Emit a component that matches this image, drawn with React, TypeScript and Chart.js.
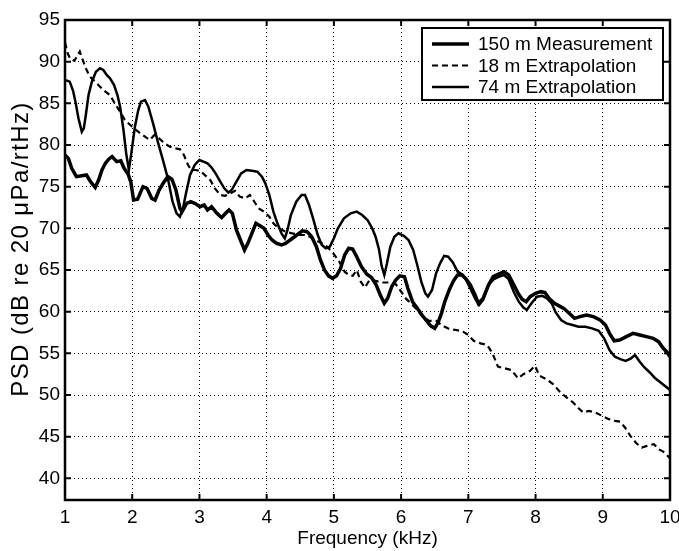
import React, { useEffect, useRef } from 'react';
import { Chart, registerables } from 'chart.js';

Chart.register(...registerables);

// ---- data ----
const freq150 = [1.00,1.05,1.10,1.17,1.25,1.32,1.38,1.45,1.50,1.55,1.60,1.65,1.70,1.77,1.83,1.88,1.94,1.98,2.02,2.08,2.16,2.22,2.29,2.34,2.40,2.46,2.53,2.59,2.65,2.71,2.74,2.81,2.87,2.93,3.01,3.07,3.12,3.18,3.26,3.33,3.39,3.44,3.49,3.55,3.61,3.67,3.72,3.78,3.84,3.90,3.96,4.02,4.08,4.15,4.22,4.28,4.35,4.45,4.53,4.60,4.67,4.74,4.80,4.86,4.92,4.98,5.04,5.10,5.16,5.22,5.28,5.34,5.41,5.49,5.56,5.63,5.69,5.75,5.80,5.86,5.92,5.98,6.05,6.10,6.17,6.24,6.31,6.38,6.44,6.50,6.55,6.60,6.65,6.72,6.78,6.84,6.90,6.96,7.03,7.10,7.15,7.22,7.30,7.37,7.45,7.53,7.60,7.67,7.74,7.80,7.86,7.92,8.00,8.08,8.14,8.20,8.28,8.35,8.42,8.50,8.58,8.66,8.76,8.86,8.96,9.04,9.10,9.17,9.25,9.35,9.45,9.55,9.65,9.75,9.83,9.90,9.95,10.0];
const psd150 = [78.8,78.4,77.2,76.2,76.3,76.4,75.6,74.9,75.8,77.0,77.8,78.3,78.6,78.0,78.1,77.2,76.5,75.5,73.4,73.5,75.0,74.8,73.6,73.4,74.6,75.4,76.2,75.9,74.6,72.4,72.0,73.0,73.2,73.0,72.6,72.8,72.2,72.6,71.8,71.3,71.8,72.2,71.8,69.8,68.6,67.4,68.2,69.4,70.6,70.3,70.0,69.2,68.6,68.2,68.0,68.2,68.6,69.2,69.7,69.6,69.0,67.8,66.2,65.0,64.3,64.0,64.3,65.2,66.8,67.6,67.5,66.6,65.4,64.5,64.1,63.2,62.0,61.0,61.6,63.0,63.8,64.3,64.2,62.8,61.2,60.4,59.6,58.9,58.3,58.0,58.7,59.8,61.2,62.7,63.7,64.4,64.4,64.0,63.2,62.0,61.0,61.6,63.2,64.2,64.5,64.8,64.4,63.3,62.2,61.5,61.2,61.8,62.2,62.4,62.3,61.6,61.0,60.7,60.4,59.8,59.2,59.4,59.6,59.4,59.0,58.4,57.4,56.5,56.6,57.0,57.4,57.2,57.0,56.8,56.4,55.6,55.2,54.6];

const freq18 = [1.00,1.04,1.08,1.14,1.19,1.22,1.26,1.31,1.37,1.45,1.52,1.60,1.67,1.74,1.82,1.89,1.97,2.04,2.12,2.19,2.26,2.33,2.40,2.48,2.56,2.64,2.71,2.77,2.83,2.88,2.94,3.01,3.08,3.16,3.23,3.31,3.38,3.46,3.53,3.60,3.68,3.75,3.80,3.88,3.96,4.04,4.10,4.18,4.28,4.38,4.50,4.60,4.70,4.80,4.90,5.00,5.08,5.16,5.22,5.28,5.34,5.40,5.46,5.53,5.62,5.72,5.82,5.92,6.00,6.08,6.16,6.24,6.32,6.42,6.52,6.62,6.72,6.82,6.92,7.00,7.08,7.18,7.28,7.36,7.44,7.54,7.64,7.74,7.82,7.92,7.99,8.06,8.16,8.26,8.36,8.46,8.56,8.64,8.71,8.79,8.89,8.99,9.09,9.18,9.26,9.33,9.41,9.50,9.58,9.66,9.76,9.83,9.92,10.0];
const psd18 = [92.3,91.0,90.3,90.1,90.8,91.2,90.3,89.2,88.2,87.6,87.0,86.4,86.0,85.0,84.0,83.0,82.4,81.9,81.4,81.0,80.6,81.2,80.8,80.2,79.8,79.6,79.5,78.8,77.6,77.0,77.0,76.9,76.4,75.8,74.8,74.0,73.9,74.2,74.5,73.8,73.6,74.0,73.4,72.4,72.0,71.4,70.6,70.0,69.6,69.4,69.2,69.2,68.7,68.3,67.8,66.9,66.0,64.8,64.4,64.3,65.0,63.6,62.9,63.8,63.7,63.5,63.5,63.3,62.4,61.5,60.9,60.2,59.4,58.9,58.9,58.3,57.9,57.8,57.6,57.2,56.5,56.2,56.0,55.0,53.4,53.2,53.0,52.0,52.5,52.9,53.5,52.3,51.9,51.3,50.4,49.7,49.1,48.4,47.9,48.1,47.9,47.5,47.1,46.9,46.8,46.1,45.1,44.2,43.7,43.9,44.1,43.5,43.1,42.4];

const freq74 = [1.00,1.07,1.12,1.16,1.20,1.25,1.28,1.31,1.35,1.40,1.46,1.52,1.57,1.62,1.67,1.73,1.78,1.82,1.87,1.91,1.95,1.99,2.04,2.09,2.13,2.19,2.24,2.31,2.38,2.45,2.53,2.60,2.66,2.71,2.76,2.80,2.86,2.93,3.00,3.06,3.12,3.18,3.24,3.31,3.37,3.43,3.48,3.55,3.62,3.70,3.78,3.86,3.93,3.98,4.04,4.10,4.16,4.22,4.27,4.31,4.36,4.44,4.52,4.57,4.63,4.69,4.76,4.82,4.88,4.94,5.00,5.06,5.15,5.25,5.34,5.42,5.50,5.57,5.62,5.67,5.71,5.75,5.79,5.84,5.90,5.96,6.04,6.11,6.18,6.24,6.30,6.36,6.40,6.46,6.52,6.58,6.64,6.70,6.77,6.84,6.92,6.98,7.04,7.10,7.16,7.22,7.30,7.38,7.46,7.53,7.60,7.68,7.75,7.82,7.87,7.94,8.02,8.10,8.17,8.24,8.30,8.38,8.46,8.55,8.64,8.74,8.84,8.94,9.02,9.10,9.18,9.26,9.34,9.42,9.48,9.55,9.62,9.70,9.78,9.86,9.94,10.0];
const psd74 = [87.8,87.6,86.5,85.0,83.2,81.6,82.0,83.6,86.0,87.6,88.8,89.2,89.0,88.4,88.0,87.2,86.0,84.6,81.8,79.0,77.0,79.2,82.2,84.2,85.2,85.4,84.6,82.6,80.4,78.4,76.0,73.2,71.8,71.4,72.6,74.2,76.4,77.6,78.2,78.0,77.8,77.3,76.6,75.6,74.8,74.3,74.6,75.6,76.6,77.0,76.9,76.8,76.2,75.4,74.0,72.0,70.6,69.4,68.8,69.8,71.6,73.2,74.0,74.0,72.8,71.2,69.2,68.0,67.6,67.8,68.8,70.0,71.2,71.8,72.0,71.6,71.0,70.0,69.0,67.5,65.5,64.4,65.8,67.8,69.0,69.4,69.1,68.6,67.4,65.6,63.6,62.2,61.8,62.6,64.6,65.8,66.7,66.6,65.9,64.8,64.4,63.6,62.6,61.6,60.8,61.4,63.2,63.9,64.2,64.4,63.9,62.3,61.2,60.5,60.2,61.0,61.8,61.9,61.6,61.0,59.9,59.0,58.6,58.4,58.2,58.2,58.0,57.7,56.8,55.4,54.6,54.3,54.1,54.4,54.8,54.0,53.3,52.7,52.0,51.5,51.0,50.6];

const seriesLabels = ['150 m Measurement', '18 m Extrapolation', '74 m Extrapolation'];
const xTickValues = [1, 2, 3, 4, 5, 6, 7, 8, 9, 10];
const yTickValues = [40, 45, 50, 55, 60, 65, 70, 75, 80, 85, 90, 95];
const xTitle = 'Frequency (kHz)';
const yTitle = 'PSD (dB re 20 \u03BCPa/rtHz)';

const FONT = "'Liberation Sans', Arial, Helvetica, sans-serif";

const toPoints = (xs: number[], ys: number[]) => xs.map((x, i) => ({ x, y: ys[i] }));

const frameAndLegend = {
  id: 'frameAndLegend',
  afterDatasetsDraw(chart: any) {
    const { ctx, chartArea: a, scales } = chart;
    ctx.save();
    ctx.strokeStyle = '#000';
    // inward ticks on all four sides
    ctx.lineWidth = 2;
    const tl = 6;
    xTickValues.forEach((v) => {
      const px = scales.x.getPixelForValue(v);
      ctx.beginPath();
      ctx.moveTo(px, a.bottom); ctx.lineTo(px, a.bottom - tl);
      ctx.moveTo(px, a.top); ctx.lineTo(px, a.top + tl);
      ctx.stroke();
    });
    yTickValues.forEach((v) => {
      const py = scales.y.getPixelForValue(v);
      ctx.beginPath();
      ctx.moveTo(a.left, py); ctx.lineTo(a.left + tl, py);
      ctx.moveTo(a.right, py); ctx.lineTo(a.right - tl, py);
      ctx.stroke();
    });
    // frame
    ctx.lineWidth = 2.5;
    ctx.strokeRect(a.left, a.top, a.right - a.left, a.bottom - a.top);

    // y axis title (rotated)
    ctx.save();
    ctx.translate(21, 249);
    ctx.rotate(-Math.PI / 2);
    ctx.font = `24px ${FONT}`;
    (ctx as any).letterSpacing = '1.4px';
    ctx.fillStyle = '#000';
    ctx.textAlign = 'center';
    ctx.textBaseline = 'middle';
    ctx.fillText(yTitle, 0, 0);
    ctx.restore();

    // legend box
    const bx = a.right - 248, by = a.top + 8, bw = 241, bh = 72;
    ctx.fillStyle = '#fff';
    ctx.fillRect(bx, by, bw, bh);
    ctx.lineWidth = 2;
    ctx.strokeRect(bx, by, bw, bh);
    ctx.font = `19px ${FONT}`;
    ctx.textBaseline = 'middle';
    ctx.textAlign = 'left';
    chart.data.datasets.forEach((ds: any, i: number) => {
      const cy = by + 16 + i * 21.5;
      ctx.save();
      ctx.lineWidth = ds.borderWidth;
      ctx.setLineDash(ds.borderDash || []);
      ctx.beginPath();
      ctx.moveTo(bx + 10, cy); ctx.lineTo(bx + 47, cy);
      ctx.stroke();
      ctx.restore();
      ctx.fillStyle = '#000';
      ctx.fillText(ds.label, bx + 56, cy + 1);
    });
    ctx.restore();
  },
};

export default function App() {
  const ref = useRef<HTMLCanvasElement | null>(null);
  useEffect(() => {
    if (!ref.current) return;
    Chart.defaults.font.family = FONT;
    Chart.defaults.color = '#000';
    const chart = new Chart(ref.current, {
      type: 'line',
      data: {
        datasets: [
          { label: seriesLabels[0], data: toPoints(freq150, psd150), borderColor: '#000', borderWidth: 3.5, pointRadius: 0, fill: false },
          { label: seriesLabels[1], data: toPoints(freq18, psd18), borderColor: '#000', borderWidth: 2.2, borderDash: [6, 4], pointRadius: 0, fill: false },
          { label: seriesLabels[2], data: toPoints(freq74, psd74), borderColor: '#000', borderWidth: 2.5, pointRadius: 0, fill: false },
        ],
      },
      options: {
        responsive: false,
        animation: false,
        devicePixelRatio: 1,
        layout: { padding: { left: 0, right: 9, top: 20, bottom: 0 } },
        plugins: { legend: { display: false }, tooltip: { enabled: false } },
        scales: {
          x: {
            type: 'linear',
            min: 1,
            max: 10,
            afterFit: (s: any) => { s.height = 51; s.paddingLeft = 0; s.paddingRight = 0; },
            afterBuildTicks: (s: any) => { s.ticks = xTickValues.map((v) => ({ value: v })); },
            ticks: { padding: 6, font: { size: 19 }, color: '#000', maxRotation: 0, autoSkip: false },
            grid: { color: '#000', lineWidth: 1, drawTicks: false },
            border: { display: true, color: '#000', width: 2, dash: [1, 3] },
            title: { display: true, text: xTitle, font: { size: 19, lineHeight: 1.2 }, color: '#000', padding: { top: 0, bottom: 1 } },
          },
          y: {
            type: 'linear',
            min: 37.4,
            max: 95,
            afterFit: (s: any) => { s.width = 65; s.paddingTop = 0; s.paddingBottom = 0; },
            afterBuildTicks: (s: any) => { s.ticks = yTickValues.map((v) => ({ value: v })); },
            ticks: { padding: 5, font: { size: 19 }, color: '#000', autoSkip: false },
            grid: { color: '#000', lineWidth: 1, drawTicks: false },
            border: { display: true, color: '#000', width: 2, dash: [1, 3] },
            title: { display: false },
          },
        },
      },
      plugins: [frameAndLegend],
    } as any);
    return () => chart.destroy();
  }, []);
  return (
    <div style={{ position: 'fixed', left: 0, top: 0, width: 679, height: 551, background: '#fff' }}>
      <canvas ref={ref} width={679} height={551} style={{ width: 679, height: 551, display: 'block' }} />
    </div>
  );
}
